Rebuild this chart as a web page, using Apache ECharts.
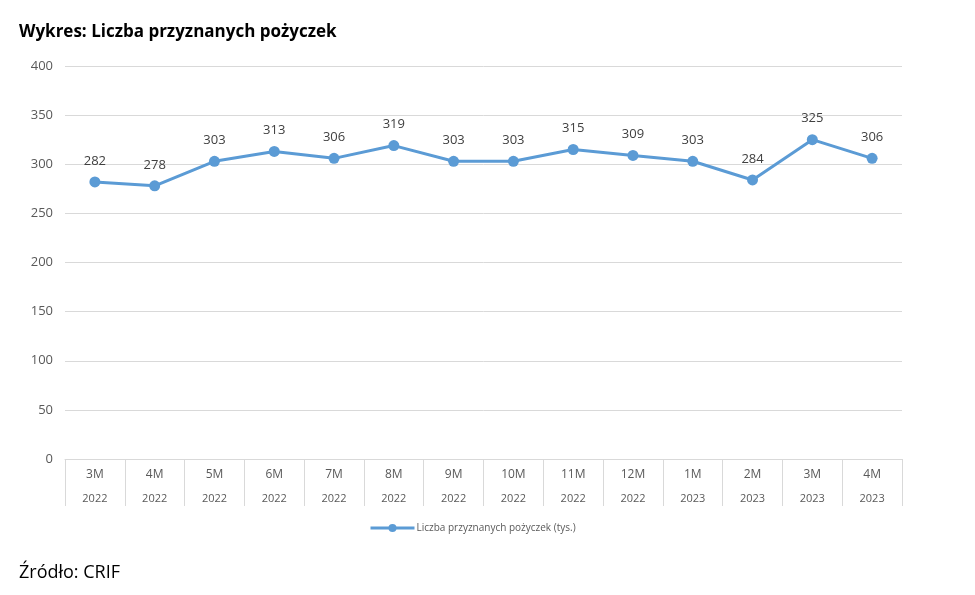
<!DOCTYPE html>
<html>
<head>
<meta charset="utf-8">
<script src="https://cdn.jsdelivr.net/npm/echarts@6/dist/echarts.min.js"></script>
<style>
  html, body { margin: 0; padding: 0; background: #fff; }
  #chart { width: 975px; height: 595px; }
</style>
</head>
<body>
<div id="chart"></div>
<script>
const months = ['3M', '4M', '5M', '6M', '7M', '8M', '9M', '10M', '11M', '12M', '1M', '2M', '3M', '4M'];
const years = ['2022', '2022', '2022', '2022', '2022', '2022', '2022', '2022', '2022', '2022', '2023', '2023', '2023', '2023'];
const loans = [282, 278, 303, 313, 306, 319, 303, 303, 315, 309, 303, 284, 325, 306];

const categories = months.map((m, i) => m + '|' + years[i]);
const font = '"Open Sans", "Noto Sans", sans-serif';

const chart = echarts.init(document.getElementById('chart'));
chart.setOption({
  backgroundColor: '#fff',
  animation: false,
  textStyle: { fontFamily: font },
  title: [
    {
      text: 'Wykres: Liczba przyznanych pożyczek',
      left: 14, top: 19,
      textStyle: { fontSize: 17, fontWeight: 'bold', color: '#000', fontFamily: font }
    },
    {
      text: 'Źródło: CRIF',
      left: 14, top: 559,
      textStyle: { fontSize: 18, fontWeight: 'normal', color: '#000', fontFamily: font }
    }
  ],
  legend: {
    bottom: 57,
    left: 364,
    itemWidth: 44,
    itemHeight: 10,
    textStyle: { fontSize: 10, color: '#595959', fontFamily: font, padding: [0, 0, 0, -3] },
    data: [{
      name: 'Liczba przyznanych pożyczek (tys.)',
      itemStyle: { color: '#5b9bd5' },
      lineStyle: { width: 3 }
    }]
  },
  grid: { left: 65, right: 73, top: 66, bottom: 136 },
  xAxis: {
    type: 'category',
    data: categories,
    boundaryGap: true,
    axisLine: { show: true, lineStyle: { color: '#d9d9d9', width: 1 } },
    axisTick: { show: true, interval: 0, length: 47, alignWithLabel: false, lineStyle: { color: '#d9d9d9', width: 1 } },
    axisLabel: {
      interval: 0,
      margin: 4,
      formatter: v => {
        const p = v.split('|');
        return '{m|' + p[0] + '}\n{y|' + p[1] + '}';
      },
      rich: {
        m: { fontSize: 12, color: '#595959', lineHeight: 24, fontFamily: font },
        y: { fontSize: 11, color: '#595959', lineHeight: 24, fontFamily: font }
      }
    }
  },
  yAxis: {
    type: 'value',
    min: 0, max: 400, interval: 50,
    axisLine: { show: false },
    axisTick: { show: false },
    axisLabel: { color: '#595959', fontSize: 13, margin: 12, fontFamily: font },
    splitLine: { lineStyle: { color: '#d9d9d9', width: 1 } }
  },
  series: [{
    name: 'Liczba przyznanych pożyczek (tys.)',
    type: 'line',
    data: loans,
    symbol: 'circle',
    symbolSize: 11,
    itemStyle: { color: '#5b9bd5' },
    lineStyle: { color: '#5b9bd5', width: 3 },
    label: {
      show: true,
      position: 'top',
      distance: 9,
      color: '#404040',
      fontSize: 13,
      fontFamily: font
    }
  }]
});
</script>
</body>
</html>
